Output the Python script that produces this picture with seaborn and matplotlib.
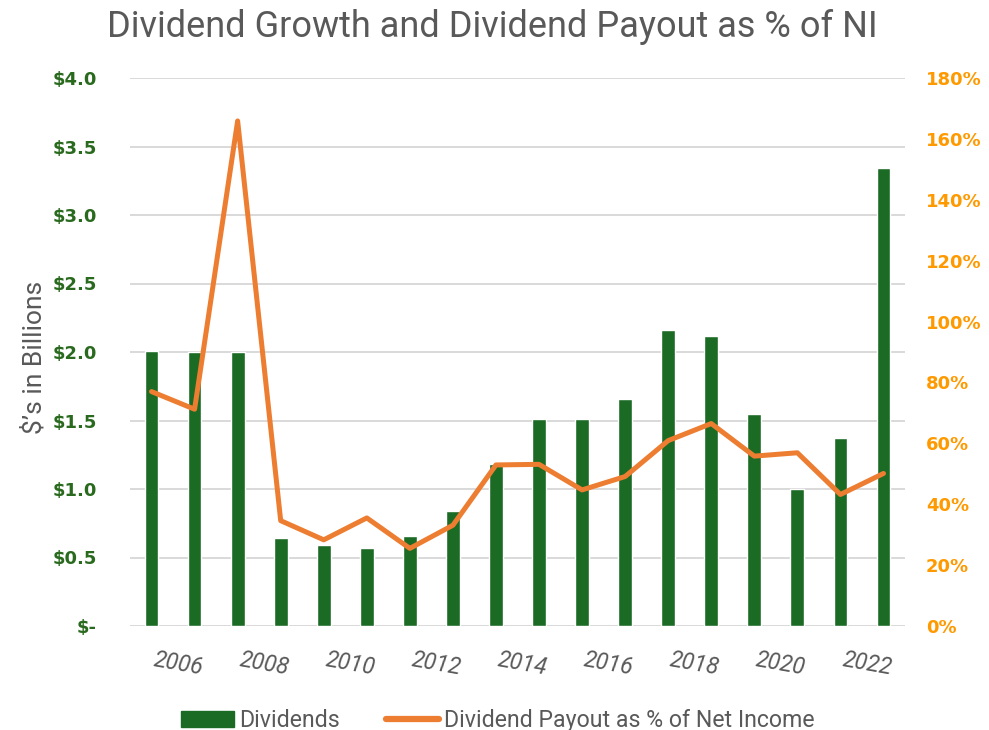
import numpy as np
import pandas as pd
import seaborn as sns
from matplotlib import pyplot as plt
from matplotlib.patches import Patch
from matplotlib.lines import Line2D
from matplotlib.ticker import FuncFormatter, MultipleLocator

years = list(range(2006, 2024))
dividends = [2.01, 2.00, 2.00, 0.64, 0.59, 0.57, 0.66, 0.84, 1.18, 1.51,
             1.51, 1.66, 2.16, 2.12, 1.55, 1.00, 1.37, 3.34]
payout = [77.0, 71.2, 165.9, 34.6, 28.3, 35.5, 25.5, 33.1, 52.9, 53.1,
          44.7, 49.1, 60.9, 66.5, 55.8, 56.9, 43.2, 50.1]

df = pd.DataFrame({'year': [str(y) for y in years],
                   'dividends': dividends,
                   'payout': payout})

sns.set_theme(style='white')
plt.rcParams['font.family'] = ['Roboto', 'DejaVu Sans']

green = '#1C6B25'
orange = '#ED7D31'
gray = '#595959'

fig = plt.figure(figsize=(9.89, 7.3), dpi=100)
ax = fig.add_axes([130 / 989, 1 - 626 / 730, 775 / 989, 548 / 730])

sns.barplot(data=df, x='year', y='dividends', color=green, saturation=1,
            width=0.32, ax=ax)
ax.set_xlim(-0.5, len(df) - 0.5)
ax.set_ylim(0, 4)
ax.yaxis.set_major_locator(MultipleLocator(0.5))
ax.yaxis.set_major_formatter(FuncFormatter(lambda v, p: '$-' if v == 0 else f'${v:.1f}'))
ax.yaxis.grid(True, color='#D9D9D9', lw=1.4)
ax.set_axisbelow(True)

ax2 = ax.twinx()
sns.lineplot(x=np.arange(len(df)), y=df['payout'], ax=ax2, color=orange,
             lw=3.6, solid_joinstyle='round', solid_capstyle='round')
ax2.set_ylim(0, 180)
ax2.yaxis.set_major_locator(MultipleLocator(20))
ax2.yaxis.set_major_formatter(FuncFormatter(lambda v, p: f'{v:.0f}%'))
ax2.set_ylabel('')

for a in (ax, ax2):
    for s in a.spines.values():
        s.set_visible(False)
    a.tick_params(length=0)

# left/right tick labels
for t in ax.get_yticklabels():
    t.set_fontfamily('DejaVu Sans')
    t.set_fontweight('bold')
    t.set_fontsize(13)
    t.set_color('#2A6A1F')
ax.tick_params(axis='y', pad=24)
for t in ax2.get_yticklabels():
    t.set_fontfamily('DejaVu Sans')
    t.set_fontweight('bold')
    t.set_fontsize(13)
    t.set_color('#FF9900')
ax2.tick_params(axis='y', pad=15)

# x labels every other year
ax.set_xticks(range(0, len(df), 2))
ax.set_xticklabels(df['year'][::2], rotation=-10, ha='left', fontsize=16.5,
                   style='italic', color=gray)
ax.tick_params(axis='x', pad=16)
ax.set_xlabel('')

ax.set_ylabel("$\u2019s in Billions", fontsize=19, color=gray)
ax.yaxis.set_label_coords(-0.108, 0.49)

fig.suptitle('Dividend Growth and Dividend Payout as % of NI', fontsize=26,
             color=gray, x=0.498, y=0.988)

handles = [Patch(color=green), Line2D([], [], color=orange, lw=4.5)]
labels = ['Dividends', 'Dividend Payout as % of Net Income']
fig.legend(handles, labels, loc='lower center', bbox_to_anchor=(0.503, -0.031),
           ncol=2, frameon=False, fontsize=16.7, handlelength=2.3,
           handletextpad=0.2, columnspacing=2.0, labelcolor=gray)

fig.savefig('out.png', dpi=100)
